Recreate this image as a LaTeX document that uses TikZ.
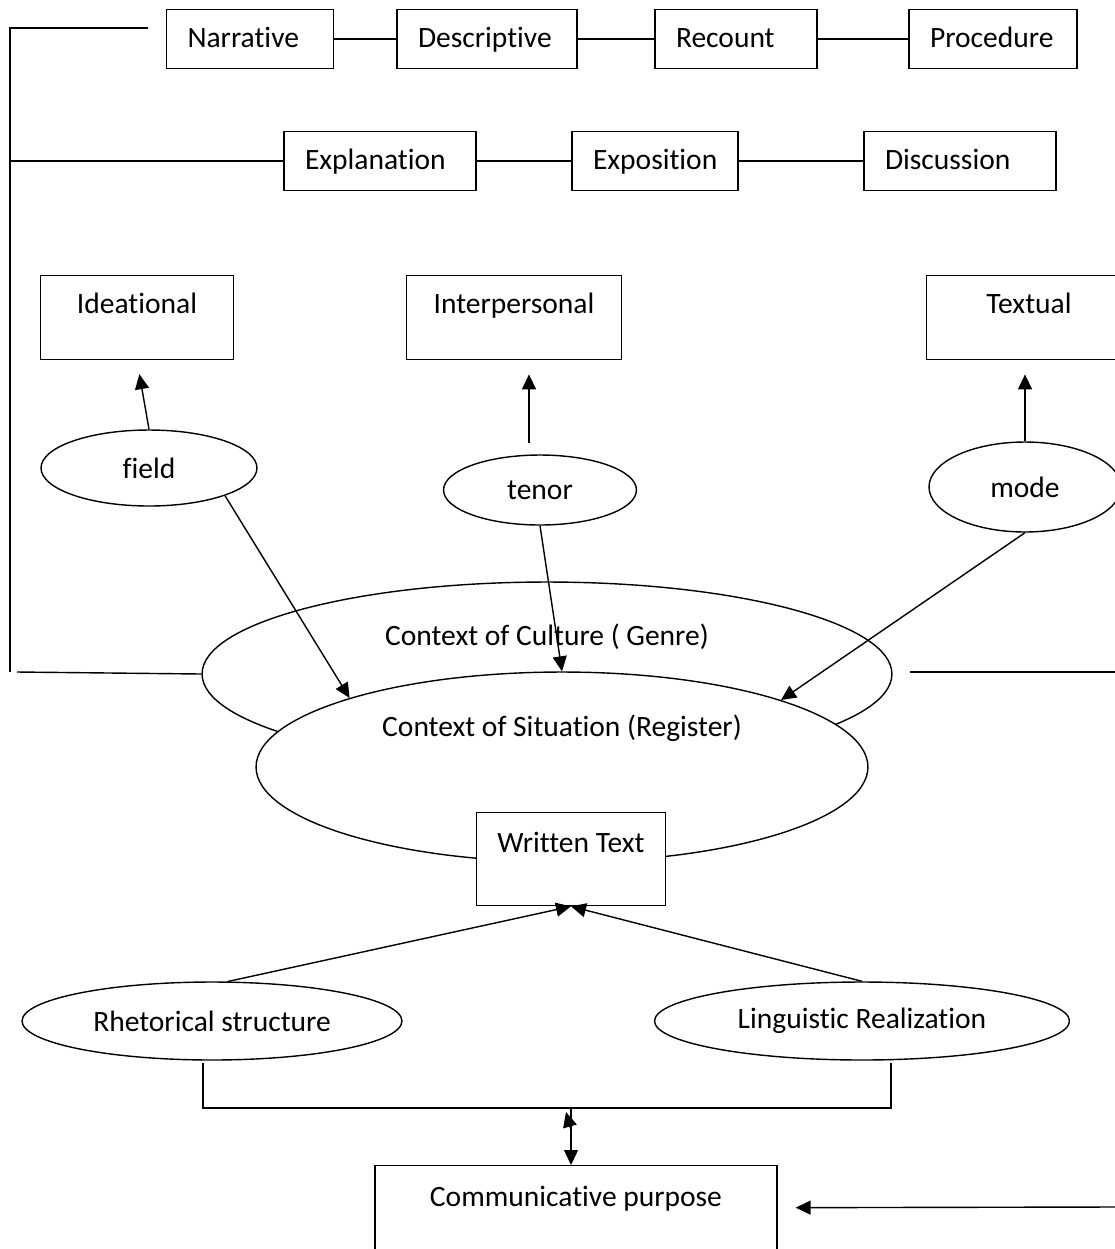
\documentclass[tikz,border=0pt]{standalone}
\usepackage{fontspec}
\setmainfont{Carlito}[Ligatures=NoCommon]
\usetikzlibrary{shapes.geometric,arrows.meta}

\begin{document}
\begin{tikzpicture}[x=0.02cm,y=-0.02cm,line width=0.8pt,
  every node/.style={font=\fontsize{16.8}{20}\selectfont},
  genrebox/.style={draw,rectangle,inner ysep=0pt,inner xsep=0.42cm,align=left,text height=0.76cm,text depth=0.42cm},
  metabox/.style={draw,rectangle,inner sep=0pt,anchor=north,text height=0.76cm,text depth=0.92cm},
  regoval/.style={draw,ellipse,inner sep=0pt},
  arr/.style={-{Triangle[length=0.3cm,width=0.28cm]}}]
\useasboundingbox (0,0) rectangle (1115,1249);
\clip (0,0) rectangle (1115,1249);

\node[genrebox,text width=2.5cm] (narrative) at (250,39) {Narrative};
\node[genrebox,text width=2.76cm] (descriptive) at (487,39) {Descriptive};
\node[genrebox,text width=2.4cm] (recount) at (736,39) {Recount};
\node[genrebox,text width=2.52cm] (procedure) at (993,39) {Procedure};
\node[genrebox,text width=3.0cm] (explanation) at (380,161) {Explanation};
\node[genrebox,text width=2.48cm] (exposition) at (655,161) {Exposition};
\node[genrebox,text width=3.0cm] (discussion) at (960,161) {Discussion};
\draw (narrative) -- (descriptive);
\draw (descriptive) -- (recount);
\draw (recount) -- (procedure);
\draw (explanation) -- (exposition);
\draw (exposition) -- (discussion);

\node[metabox,minimum width=3.86cm] (ideational) at (137,275) {Ideational};
\node[metabox,minimum width=4.3cm] (interpersonal) at (514,275) {Interpersonal};
\node[metabox,minimum width=4.1cm] (textual) at (1029,275) {Textual};

\node[regoval,minimum width=4.32cm,minimum height=1.52cm] (field) at (149,468) {field};
\node[regoval,minimum width=3.86cm,minimum height=1.4cm] (tenor) at (540,490) {tenor};
\node[regoval,minimum width=3.84cm,minimum height=1.8cm] (mode) at (1025,487) {mode};

\node[regoval,minimum width=13.8cm,minimum height=3.68cm] (culture) at (547,674) {};
\node (culturetxt) at (547,637) {Context of Culture ( Genre)};
\node[regoval,fill=white,minimum width=12.24cm,minimum height=3.8cm] (situation) at (562,767) {};
\node (situationtxt) at (562,728) {Context of Situation (Register)};
\node[metabox,fill=white,minimum width=3.78cm,text height=0.8cm,text depth=1.06cm] (written) at (571,812) {Written Text};

\node[regoval,minimum width=7.6cm,minimum height=1.56cm] (rhetorical) at (212,1021) {Rhetorical structure};
\node[regoval,minimum width=8.3cm,minimum height=1.56cm] (linguistic) at (862,1021) {Linguistic Realization};
\node[metabox,minimum width=8.04cm,text height=0.82cm,text depth=0.86cm] (purpose) at (576,1165) {Communicative purpose};

\coordinate (topstub) at (148,28);
\coordinate (topcorner) at (10,28);
\coordinate (bottomcorner) at (10,672);
\coordinate (midleft) at (10,161);
\coordinate (lowstart) at (17,672);
\coordinate (rightstart) at (910,672);
\coordinate (rightedge) at (1115,672);
\draw (topstub) -- (topcorner) -- (bottomcorner);
\draw (midleft) -- (explanation);
\draw (lowstart) -- (culture.west);
\draw (rightstart) -- (rightedge);

\coordinate (tenorfoot) at (529,443);
\draw[arr,shorten >=0.28cm] (field.north) -- (ideational.south);
\draw[arr,shorten >=0.28cm] (tenorfoot) -- (tenorfoot |- interpersonal.south);
\draw[arr,shorten >=0.28cm] (mode.north) -- (mode.north |- textual.south);

\draw[arr] (field.-20) -- (situation.162);
\draw[arr] (tenor.south) -- (situation.north);
\draw[arr] (mode.south) -- (situation.17);

\draw[arr] (rhetorical.68) -- (written.south);
\draw[arr] (linguistic.north) -- (written.south);

\coordinate (leftfoot) at (203,1063);
\coordinate (rightfoot) at (891,1063);
\coordinate (joint) at (571,1108);
\coordinate (stubbase) at (571,1130);
\coordinate (stubtip) at (566,1112);
\draw (leftfoot) |- (joint) -| (rightfoot);
\draw[arr] (joint) -- (joint |- purpose.north);
\draw[arr] (stubbase) -- (stubtip);

\coordinate (rightend) at (1115,1207);
\draw[arr,shorten >=0.36cm] (rightend) -- (purpose.east);
\end{tikzpicture}
\end{document}
